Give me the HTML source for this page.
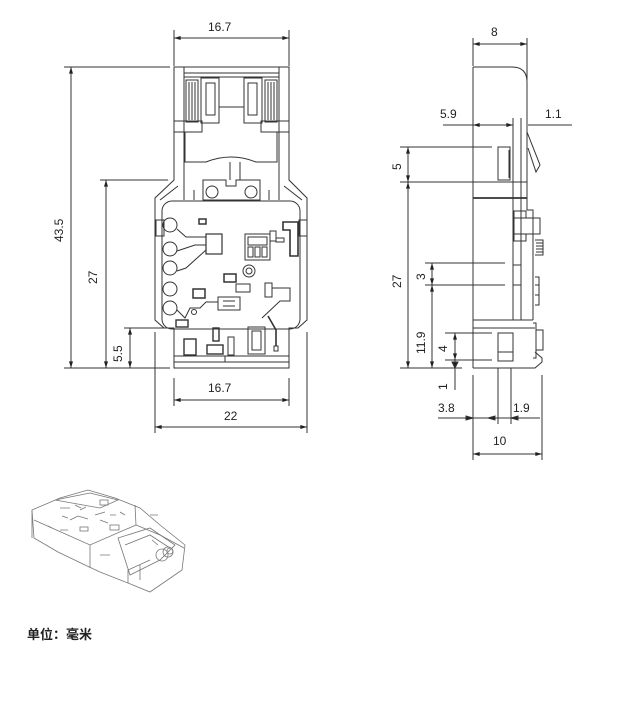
<!DOCTYPE html>
<html><head><meta charset="utf-8"><style>
html,body{margin:0;padding:0;background:#fff;width:625px;height:716px;overflow:hidden}
svg{position:absolute;left:0;top:0}
.t{font-family:"Liberation Sans Narrow","Liberation Sans",sans-serif;font-size:12px;fill:#222}
.cn{position:absolute;left:27px;top:624px;font:bold 13px "Liberation Sans","Noto Sans CJK SC",sans-serif;color:#222}
</style></head><body>
<svg width="625" height="716" viewBox="0 0 625 716">
<defs>
<marker id="a" viewBox="0 0 10 6" refX="10" refY="3" markerWidth="8" markerHeight="4" orient="auto-start-reverse"><path d="M0,0L10,3L0,6z" fill="#222"/></marker>
</defs>
<g stroke="#333" stroke-width="1" fill="none">
<line x1="174" y1="30" x2="174" y2="66"/><line x1="289" y1="30" x2="289" y2="66"/>
<line x1="174" y1="38" x2="289" y2="38" marker-start="url(#a)" marker-end="url(#a)"/>
<line x1="64" y1="67" x2="170" y2="67"/>
<line x1="64" y1="368" x2="170" y2="368"/>
<line x1="71" y1="67" x2="71" y2="368" marker-start="url(#a)" marker-end="url(#a)"/>
<line x1="100" y1="180" x2="168" y2="180"/>
<line x1="106" y1="180" x2="106" y2="368" marker-start="url(#a)" marker-end="url(#a)"/>
<line x1="124" y1="328" x2="172" y2="328"/>
<line x1="130" y1="328" x2="130" y2="368" marker-start="url(#a)" marker-end="url(#a)"/>
<line x1="174" y1="378" x2="174" y2="406"/><line x1="289" y1="378" x2="289" y2="406"/>
<line x1="174" y1="400" x2="289" y2="400" marker-start="url(#a)" marker-end="url(#a)"/>
<line x1="155" y1="332" x2="155" y2="433"/><line x1="307" y1="332" x2="307" y2="433"/>
<line x1="155" y1="427" x2="307" y2="427" marker-start="url(#a)" marker-end="url(#a)"/>
<path d="M174,67 H289 V180 L307,198 V320 L298,328 H289 V368 H174 V328 H164 L155,320 V198 L174,180 Z"/>
<path d="M160,200 L178,186 M302,200 L284,186"/>
<line x1="184" y1="67" x2="184" y2="200"/><line x1="279" y1="67" x2="279" y2="200"/>
<line x1="184" y1="73" x2="279" y2="73"/><line x1="184" y1="77" x2="279" y2="77"/>
<rect x="186" y="80" width="12" height="42"/><rect x="265" y="80" width="12" height="42"/>
<path d="M189,82 V120 M192,82 V120 M195,82 V120 M268,82 V120 M271,82 V120 M274,82 V120"/>
<rect x="201" y="78" width="18" height="45"/><rect x="244" y="78" width="18" height="45"/>
<rect x="206" y="83" width="9" height="32"/><rect x="248" y="83" width="9" height="32"/>
<path d="M219,107 H244"/>
<rect x="174" y="121" width="28" height="11"/><rect x="261" y="121" width="28" height="11"/>
<path d="M185,132 V162 H206 Q231,152 256,162 H277 V132"/>
<path d="M230,162 V180 M240,162 V180"/>
<path d="M203,180 H226 V186 H236 V180 H260 V200 H203 Z"/>
<circle cx="212" cy="192" r="6"/><circle cx="251" cy="192" r="6"/>
<path d="M184,190 V200 M194,190 V200 M269,190 V200 M279,190 V200"/>
<rect x="162" y="201" width="138" height="128" rx="10"/>
<rect x="156" y="220" width="8" height="16"/><rect x="299" y="220" width="8" height="16"/>
<circle cx="170" cy="225" r="7"/><circle cx="170" cy="249" r="7"/><circle cx="170" cy="268" r="7"/><circle cx="170" cy="289" r="7"/><circle cx="170" cy="308" r="7"/>
<rect x="199" y="219" width="7" height="5" stroke-width="1.5"/>
<rect x="206" y="234" width="16" height="20" stroke-width="1.2"/>
<path d="M177,229 L186,237 H206 M177,251 L195,245 H206 M177,271 L186,268 L206,250"/>
<rect x="245" y="234" width="25" height="26"/><rect x="248" y="237" width="19" height="8"/><rect x="248" y="247" width="5" height="10"/><rect x="255" y="247" width="5" height="10"/><rect x="262" y="247" width="5" height="10"/>
<rect x="270" y="231" width="6" height="10"/><rect x="276" y="238" width="8" height="4"/>
<path d="M283,222 H298 V256 H290 V230 H283 Z" stroke-width="1.6"/>
<circle cx="249" cy="271" r="6"/><circle cx="249" cy="271" r="3"/>
<rect x="224" y="274" width="12" height="8" stroke-width="1.5"/><rect x="236" y="284" width="14" height="8"/>
<rect x="193" y="289" width="12" height="9" stroke-width="1.5"/>
<rect x="218" y="297" width="22" height="13"/><path d="M223,301 h12 M223,306 h12"/>
<path d="M177,310 L185,318 L190,308 H200 L206,302 H218"/>
<circle cx="194" cy="312" r="2.5"/>
<rect x="176" y="320" width="12" height="7" stroke-width="1.4"/>
<rect x="265" y="283" width="7" height="14"/><path d="M272,288 H290 V301 H280 L262,318"/>
<path d="M268,316 L276,330 V346" stroke-width="1.6"/><rect x="274" y="346" width="4" height="5"/>
<rect x="184" y="339" width="12" height="16" stroke-width="1.4"/>
<rect x="213" y="328" width="6" height="13" stroke-width="1.4"/>
<rect x="207" y="345" width="16" height="9" stroke-width="1.4"/>
<rect x="228" y="337" width="6" height="18"/>
<rect x="248" y="327" width="17" height="27"/><rect x="252" y="331" width="9" height="19"/>
<path d="M174,356 H289 M174,362 H289 M225,356 V362"/>
<line x1="473" y1="38" x2="473" y2="66"/><line x1="527" y1="38" x2="527" y2="80"/>
<line x1="473" y1="44" x2="527" y2="44" marker-start="url(#a)" marker-end="url(#a)"/>
<path d="M473,67 H512 Q527,67 527,82 V198"/>
<line x1="473" y1="67" x2="473" y2="368"/>
<line x1="473" y1="198" x2="527" y2="198" stroke-width="1.8"/>
<line x1="513" y1="118" x2="513" y2="320"/><line x1="521" y1="118" x2="521" y2="320"/>
<line x1="443" y1="125" x2="473" y2="125"/>
<line x1="473" y1="125" x2="513" y2="125" marker-start="url(#a)" marker-end="url(#a)"/>
<line x1="528" y1="125" x2="572" y2="125"/>
<path d="M527,120 V132 L540,165 L536,172 L528,148"/>
<line x1="400" y1="147" x2="492" y2="147"/><line x1="400" y1="182" x2="527" y2="182"/>
<line x1="408" y1="147" x2="408" y2="182" marker-start="url(#a)" marker-end="url(#a)"/>
<rect x="498" y="147" width="12" height="33"/><line x1="509" y1="150" x2="509" y2="178"/>
<line x1="408" y1="182" x2="408" y2="368" marker-start="url(#a)" marker-end="url(#a)"/>
<path d="M527,198 V210 H533 V320"/>
<rect x="514" y="211" width="12" height="7"/><rect x="514" y="218" width="26" height="16"/><rect x="514" y="234" width="12" height="7"/>
<path d="M535,240 H543 V255 H535 M536,243 H543 M536,246 H543 M536,249 H543 M536,252 H543"/>
<path d="M535,277 H539 V305 H535 M535,285 H539 M535,295 H539"/>
<line x1="425" y1="263" x2="505" y2="263"/><line x1="425" y1="285" x2="505" y2="285"/>
<line x1="432" y1="263" x2="432" y2="285" marker-start="url(#a)" marker-end="url(#a)"/>
<rect x="513" y="265" width="8" height="20"/>
<line x1="432" y1="285" x2="432" y2="368" marker-start="url(#a)" marker-end="url(#a)"/>
<line x1="473" y1="320" x2="533" y2="320"/><line x1="473" y1="328" x2="535" y2="328"/>
<path d="M533,323 H536 V358 H533 M536,330 H543 V350 H536"/>
<line x1="445" y1="333" x2="492" y2="333"/><line x1="445" y1="360" x2="492" y2="360"/>
<line x1="455" y1="333" x2="455" y2="360" marker-start="url(#a)" marker-end="url(#a)"/>
<line x1="455" y1="360" x2="455" y2="390"/>
<path d="M455,368 L452,362 H458 Z" fill="#222"/>
<rect x="498" y="333" width="15" height="28"/><line x1="498" y1="352" x2="513" y2="352"/>
<path d="M473,368 H535 L542,362 V358 L535,352"/>
<line x1="400" y1="368" x2="462" y2="368"/>
<line x1="498" y1="368" x2="498" y2="424"/><line x1="511" y1="368" x2="511" y2="424"/>
<line x1="473" y1="375" x2="473" y2="460"/><line x1="542" y1="375" x2="542" y2="460"/>
<line x1="438" y1="418" x2="540" y2="418"/>
<path d="M473,418 l-7,-2 v4z M488,418 l7,-2 v4z M511,418 l7,-2 v4z" fill="#222"/>
<line x1="473" y1="454" x2="542" y2="454" marker-start="url(#a)" marker-end="url(#a)"/>
</g>
<g class="t">
<text x="208" y="31">16.7</text>
<text x="208" y="392">16.7</text>
<text x="224" y="420">22</text>
<text transform="translate(63,242) rotate(-90)">43.5</text>
<text transform="translate(97,284) rotate(-90)">27</text>
<text transform="translate(122,362) rotate(-90)">5.5</text>
<text x="491" y="36">8</text>
<text x="440" y="118">5.9</text>
<text x="545" y="118">1.1</text>
<text transform="translate(401,170) rotate(-90)">5</text>
<text transform="translate(401,288) rotate(-90)">27</text>
<text transform="translate(425,280) rotate(-90)">3</text>
<text transform="translate(425,354) rotate(-90)">11.9</text>
<text transform="translate(447,352) rotate(-90)">4</text>
<text transform="translate(447,390) rotate(-90)">1</text>
<text x="438" y="412">3.8</text>
<text x="513" y="412">1.9</text>
<text x="493" y="445">10</text>
</g>
<g stroke="#777" stroke-width="0.8" fill="none">
<path d="M32,510 L60,498 L88,490 L115,498 L140,508 L160,525 L185,545 L182,570 L150,592 L128,583 L100,572 L85,565 L58,552 L34,538 Z"/>
<path d="M32,510 L32,538 M34,520 L90,545 L136,525 L135,505 M90,545 L90,568 M136,525 L160,535 L184,548"/>
<path d="M55,500 L90,493 L118,500 L100,508 Z M60,508 h10 M75,505 l6,3 M95,515 l10,-3 M100,520 l8,3"/>
<path d="M118,538 L150,528 L175,545 L160,560 L130,575 Z M125,545 L150,535 L170,548"/>
<circle cx="162" cy="555" r="6"/><circle cx="168" cy="552" r="5"/><circle cx="170" cy="551" r="3"/>
<path d="M60,530 h8 M100,555 h10 M128,583 L128,570 L150,560 M140,565 L140,580"/>
<path d="M70,520 l8,-4 l10,3 M110,515 h6 M120,512 l5,3 M80,510 l6,-3 M62,516 l6,2"/>
<rect x="100" y="500" width="8" height="5"/><rect x="80" y="527" width="8" height="4"/><rect x="110" y="525" width="9" height="5"/>
<path d="M48,526 l4,2 M152,540 l6,5 M150,515 l8,0"/>
</g>
</svg>
<div class="cn">单位：毫米</div>
</body></html>
